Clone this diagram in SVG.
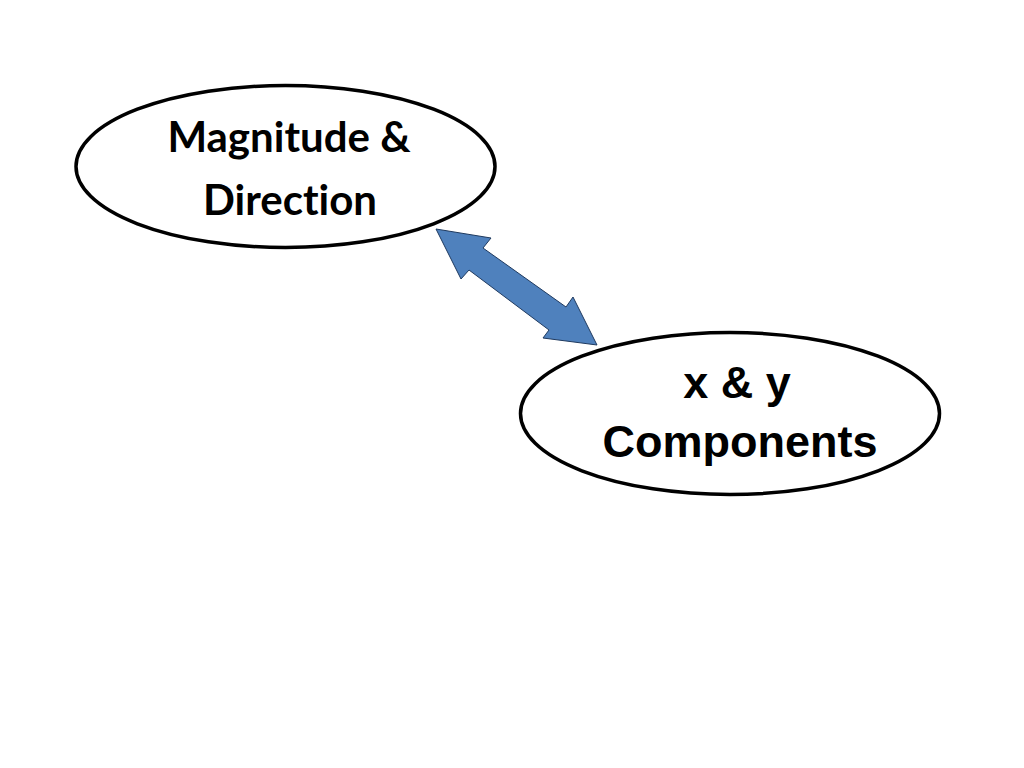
<svg xmlns="http://www.w3.org/2000/svg" width="1024" height="768" viewBox="0 0 1024 768">
<style>
.node{fill:#fff;stroke:#000;stroke-width:3.5}
.t1{font-family:Lato,"Open Sans",sans-serif;font-weight:bold;font-size:42px;fill:#000;text-anchor:middle;font-variant-ligatures:none}
.t2{font-family:"Liberation Sans",Arial,sans-serif;font-weight:bold;font-size:45px;fill:#000;text-anchor:middle}
.arrow{fill:#4F81BD;stroke:#1F3A5F;stroke-width:1}
</style>
<rect width="1024" height="768" fill="#fff"/>
<g id="node-magnitude">
<ellipse class="node" cx="285.5" cy="166.5" rx="209.5" ry="81"/>
<text class="t1" x="289" y="152">Magnitude &amp;</text>
<text class="t1" x="290" y="215">Direction</text>
</g>
<g id="node-components">
<ellipse class="node" cx="730" cy="413.5" rx="209.5" ry="81"/>
<text class="t2" x="737" y="398">x &amp; y</text>
<text class="t2" x="740" y="457">Components</text>
</g>
<g id="connectors">
<polygon class="arrow" points="436,229 491,238 483,248 566,307 573,297 597,345 543,338 549,330 469,270 461,279"/>
</g>
</svg>
